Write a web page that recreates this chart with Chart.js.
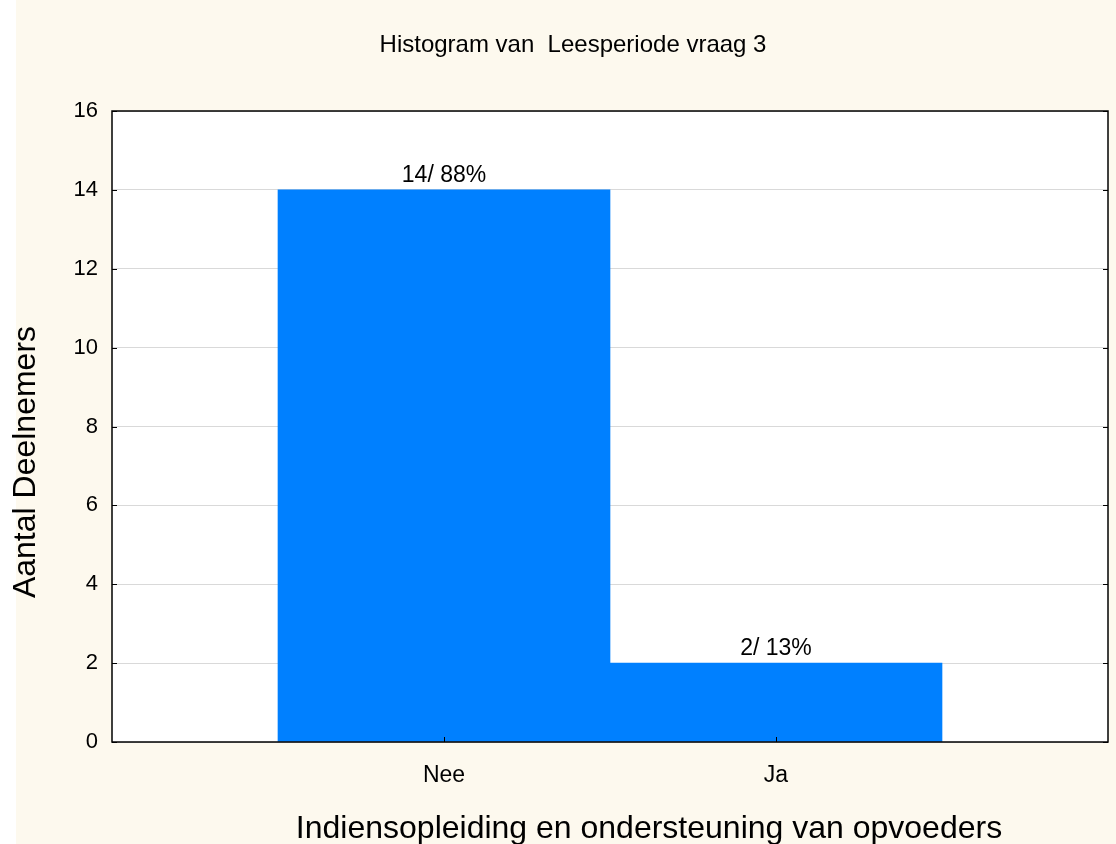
<!DOCTYPE html>
<html>
<head>
<meta charset="utf-8">
<script src="https://cdn.jsdelivr.net/npm/chart.js@4/dist/chart.umd.min.js"></script>
<style>
  body { margin: 0; background: #fff; }
  canvas { display: block; }
</style>
</head>
<body>
<canvas id="grafiek" width="1116" height="844"></canvas>
<script>
// Data
const categorieen = ['', 'Nee', 'Ja', ''];
const aantallen = [null, 14, 2, null];
const percentages = ['', '88%', '13%', ''];
const yTicks = [0, 2, 4, 6, 8, 10, 12, 14, 16];

const titel = 'Histogram van  Leesperiode vraag 3';
const xTitel = 'Indiensopleiding en ondersteuning van opvoeders';
const yTitel = 'Aantal Deelnemers';

const lettertype = '"Liberation Sans", Arial, sans-serif';
const creme = '#fdf9ee';

// Achtergrond, kader, streepjes en teksten
const tekenPlugin = {
  id: 'teken',
  beforeDraw(chart) {
    const { ctx, chartArea: a } = chart;
    ctx.save();
    ctx.fillStyle = creme;
    ctx.fillRect(16, 0, chart.width - 16, chart.height);
    ctx.fillStyle = '#fff';
    ctx.fillRect(a.left, a.top, a.right - a.left, a.bottom - a.top);
    ctx.restore();
  },
  afterDatasetsDraw(chart) {
    const { ctx, chartArea: a, scales } = chart;
    ctx.save();

    // labels boven de staven
    ctx.font = '23px ' + lettertype;
    ctx.fillStyle = '#000';
    ctx.textAlign = 'center';
    ctx.textBaseline = 'alphabetic';
    chart.getDatasetMeta(0).data.forEach((bar, i) => {
      if (aantallen[i] == null) return;
      ctx.fillText(aantallen[i] + '/ ' + percentages[i], bar.x, bar.y - 8);
    });

    // kader
    ctx.strokeStyle = '#000';
    ctx.lineWidth = 1.5;
    ctx.strokeRect(a.left, a.top, a.right - a.left, a.bottom - a.top);

    // streepjes naar binnen
    ctx.lineWidth = 1;
    ctx.beginPath();
    yTicks.forEach(v => {
      const y = Math.round(scales.y.getPixelForValue(v)) + 0.5;
      ctx.moveTo(a.left, y); ctx.lineTo(a.left + 5, y);
      ctx.moveTo(a.right - 5, y); ctx.lineTo(a.right, y);
    });
    categorieen.forEach((c, i) => {
      if (!c) return;
      const x = Math.round(scales.x.getPixelForValue(i)) + 0.5;
      ctx.moveTo(x, a.bottom); ctx.lineTo(x, a.bottom - 5);
    });
    ctx.stroke();

    // titels
    ctx.fillStyle = '#000';
    ctx.font = '24px ' + lettertype;
    ctx.fillText(titel, 573, 52);
    ctx.font = '32px ' + lettertype;
    ctx.fillText(xTitel, 649, 838);
    ctx.translate(35, 462);
    ctx.rotate(-Math.PI / 2);
    ctx.fillText(yTitel, 0, 0);
    ctx.restore();
  }
};

new Chart(document.getElementById('grafiek'), {
  type: 'bar',
  data: {
    labels: categorieen,
    datasets: [{
      data: aantallen,
      backgroundColor: '#0080ff',
      borderWidth: 0,
      barPercentage: 1,
      categoryPercentage: 1
    }]
  },
  options: {
    responsive: false,
    animation: false,
    layout: { padding: { top: 111, right: 8, left: 0, bottom: 0 } },
    plugins: { legend: { display: false }, tooltip: { enabled: false } },
    scales: {
      x: {
        offset: false,
        grid: { display: false },
        border: { display: false },
        ticks: { color: '#000', font: { size: 23, family: lettertype }, padding: 12, maxRotation: 0, autoSkip: false },
        afterFit: s => { s.height = 102; s.paddingLeft = 0; s.paddingRight = 0; }
      },
      y: {
        min: 0,
        max: 16,
        grid: { color: '#d9d9d9', drawTicks: false },
        border: { display: false },
        ticks: { stepSize: 2, color: '#000', font: { size: 22, family: lettertype }, padding: 14 },
        afterFit: s => { s.width = 112; s.paddingTop = 0; s.paddingBottom = 0; }
      }
    }
  },
  plugins: [tekenPlugin]
});
</script>
</body>
</html>
